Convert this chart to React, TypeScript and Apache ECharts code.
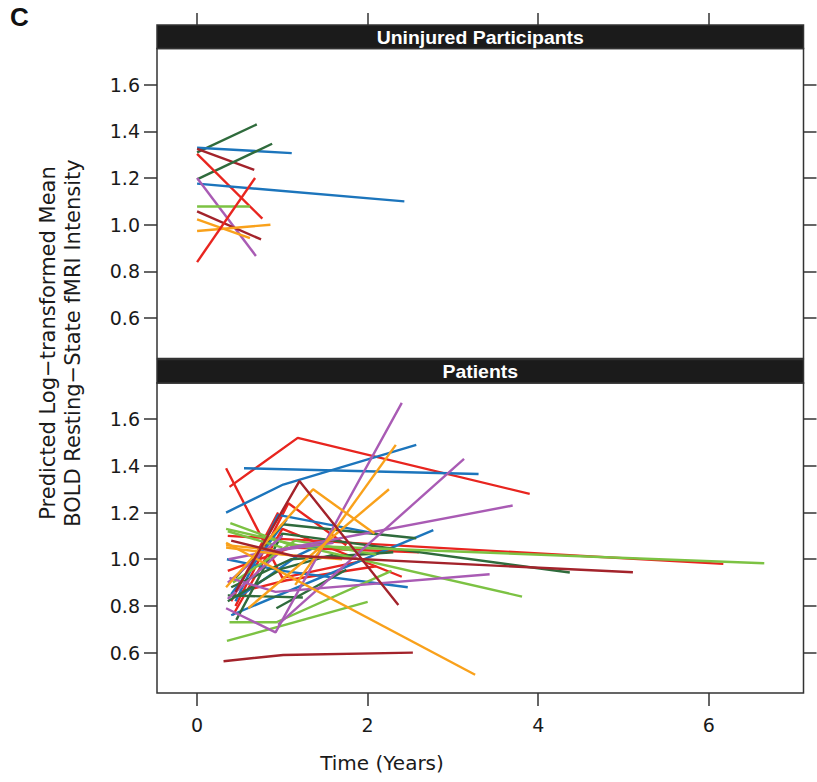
import React, { useEffect, useRef } from "react";
import * as echarts from "echarts";

const X_MIN = -0.47;
const X_MAX = 7.11;
const Y_MIN = 0.427;
const Y_MAX = 1.755;

const xTicks = [0, 2, 4, 6];
const yTicks = [0.6, 0.8, 1.0, 1.2, 1.4, 1.6];
const panelTitles = ["Uninjured Participants", "Patients"];
const xTitle = "Time (Years)";
const yTitle = ["Predicted Log\u2212transformed Mean", "BOLD Resting\u2212State fMRI Intensity"];
const panelLetter = "C";

const RED = "#E8251F";
const BLUE = "#1C75BC";
const DGREEN = "#2F6B3C";
const GREEN = "#7CC243";
const PURPLE = "#A95BB4";
const ORANGE = "#F9A11B";
const DRED = "#A3232B";

// Uninjured participants: time (years) and predicted values per participant
const uninjuredTimes = [
  [0, 0.7], [0, 1.11], [0, 0.67], [0, 0.88], [0, 0.765], [0, 2.43],
  [0, 0.69], [0, 0.62], [0, 0.75], [0, 0.62], [0, 0.86], [0, 0.68],
];
const uninjuredValues = [
  [1.31, 1.43], [1.33, 1.307], [1.325, 1.235], [1.194, 1.347], [1.304, 1.026], [1.176, 1.1],
  [1.2, 0.866], [1.078, 1.078], [1.057, 0.937], [1.023, 0.943], [0.973, 1.0], [0.84, 1.2],
];
const uninjuredColors = [
  DGREEN, BLUE, DRED, DGREEN, RED, BLUE, PURPLE, GREEN, DRED, ORANGE, ORANGE, RED,
];

// Patients
const patientTimes = [
  [0.38, 1.18, 3.9], [0.36, 6.17], [0.34, 1.0, 1.9], [0.45, 1.07, 1.75], [0.42, 1.0, 2.4],
  [0.5, 1.05, 2.1], [0.36, 1.1, 2.6], [0.4, 0.95],
  [0.55, 3.3], [0.34, 1.01, 2.57], [0.45, 0.95, 2.1], [0.4, 2.77], [0.35, 1.0, 2.47], [0.5, 1.2, 1.55],
  [0.4, 1.05],
  [0.46, 1.0, 4.37], [0.45, 1.0, 2.57], [0.36, 1.24], [0.93, 1.75], [0.4, 1.1, 2.3], [0.36, 1.0, 1.6],
  [0.35, 2.0], [0.38, 0.93, 2.28], [0.34, 3.81], [0.39, 1.1, 6.65], [0.42, 1.15, 2.1], [0.36, 1.0],
  [0.34, 0.92, 2.4], [0.95, 3.13], [0.37, 3.7], [0.38, 0.92, 3.43], [0.36, 1.0, 1.6], [0.36, 1.0],
  [0.34, 3.26], [0.34, 1.36, 2.08], [1.15, 2.33], [0.6, 2.25], [0.34, 1.0, 1.7], [0.34, 0.9],
  [0.31, 1.01, 2.53], [0.45, 1.2, 2.36], [0.4, 1.12, 5.11],
];
const patientValues = [
  [1.31, 1.52, 1.28], [1.1, 0.98], [1.39, 0.92, 0.99], [0.8, 1.24, 1.06], [0.76, 1.13, 0.925],
  [0.86, 0.91, 0.97], [0.95, 1.05, 1.03], [0.82, 1.2],
  [1.39, 1.365], [1.2, 1.32, 1.49], [0.82, 1.19, 1.11], [0.76, 1.125], [1.0, 0.95, 0.88], [0.84, 1.02, 1.08],
  [0.85, 1.17],
  [0.74, 1.11, 0.943], [0.92, 1.15, 1.09], [0.845, 0.836], [0.79, 0.955], [0.88, 1.0, 1.03], [0.82, 0.96, 1.02],
  [0.65, 0.817], [0.73, 0.73, 0.95], [1.13, 0.84], [1.155, 1.06, 0.983], [0.9, 1.08, 1.02], [1.12, 1.05],
  [0.79, 0.687, 1.67], [0.72, 1.43], [1.0, 1.23], [0.92, 0.86, 0.936], [0.83, 1.04, 1.07], [0.9, 1.1],
  [1.07, 0.505], [0.88, 1.3, 1.11], [0.89, 1.49], [0.79, 1.3], [1.05, 1.02, 1.0], [1.06, 1.04],
  [0.563, 0.59, 0.6], [0.86, 1.335, 0.804], [1.08, 1.015, 0.944],
];
const patientColors = [
  RED, RED, RED, RED, RED, RED, RED, RED,
  BLUE, BLUE, BLUE, BLUE, BLUE, BLUE, BLUE,
  DGREEN, DGREEN, DGREEN, DGREEN, DGREEN, DGREEN,
  GREEN, GREEN, GREEN, GREEN, GREEN, GREEN,
  PURPLE, PURPLE, PURPLE, PURPLE, PURPLE, PURPLE,
  ORANGE, ORANGE, ORANGE, ORANGE, ORANGE, ORANGE,
  DRED, DRED, DRED,
];

const AXIS_COLOR = "#333";
const TEXT_COLOR = "#1a1a1a";
const TICK_FONT = "DejaVu Sans";

const GRID_LEFT = 157;
const GRID_WIDTH = 646.5;
const PANEL_TOPS = [48.5, 383];
const PANEL_HEIGHT = 310;
const STRIP_H = 23.5;

function buildSeries(times: number[][], values: number[][], colors: string[], panel: number) {
  return times.map((t, i) => ({
    type: "line",
    xAxisIndex: panel,
    yAxisIndex: panel * 2,
    data: t.map((x, j) => [x, values[i][j]]),
    symbol: "none",
    silent: true,
    lineStyle: { color: colors[i], width: 2.4 },
    z: 3,
  }));
}

function yAxesFor(panel: number) {
  const common = {
    gridIndex: panel,
    type: "value",
    min: Y_MIN,
    max: Y_MAX,
    axisLine: { show: false, onZero: false },
    splitLine: { show: false },
  };
  const tick = {
    show: true,
    inside: false,
    length: 13,
    customValues: yTicks,
    lineStyle: { color: AXIS_COLOR, width: 1.5 },
  };
  return [
    {
      ...common,
      position: "left",
      axisTick: tick,
      axisLabel: {
        show: true,
        customValues: yTicks,
        margin: 17,
        fontSize: 19,
        fontFamily: TICK_FONT,
        color: TEXT_COLOR,
        formatter: (v: number) => v.toFixed(1),
      },
    },
    {
      ...common,
      position: "right",
      axisTick: tick,
      axisLabel: { show: false },
    },
  ];
}

export default function App() {
  const ref = useRef<HTMLDivElement>(null);

  useEffect(() => {
    if (!ref.current) return;
    const chart = echarts.init(ref.current, undefined, { renderer: "svg" });

    const graphics: any[] = [];
    panelTitles.forEach((title, i) => {
      const top = PANEL_TOPS[i] - STRIP_H;
      graphics.push({
        type: "rect",
        shape: { x: GRID_LEFT, y: top, width: GRID_WIDTH, height: STRIP_H },
        style: { fill: "#1b1b1b", stroke: AXIS_COLOR, lineWidth: 1.5 },
        z: 10,
      });
      graphics.push({
        type: "text",
        x: GRID_LEFT + GRID_WIDTH / 2,
        y: top + STRIP_H / 2 + 1,
        scaleX: 1.08,
        style: {
          text: title,
          fill: "#ffffff",
          font: "bold 18px 'Liberation Sans', Arial, sans-serif",
          textAlign: "center",
          textVerticalAlign: "middle",
          align: "center",
          verticalAlign: "middle",
        },
        z: 11,
      });
    });
    graphics.push({
      type: "text",
      x: 60,
      y: 343,
      rotation: Math.PI / 2,
      style: {
        text: yTitle.join("\n"),
        fill: TEXT_COLOR,
        font: "21px 'DejaVu Sans', sans-serif",
        lineHeight: 25,
        textAlign: "center",
        textVerticalAlign: "middle",
        align: "center",
        verticalAlign: "middle",
      },
    });
    graphics.push({
      type: "text",
      x: 382,
      y: 763,
      style: {
        text: xTitle,
        fill: TEXT_COLOR,
        font: "20px 'DejaVu Sans', sans-serif",
        textAlign: "center",
        textVerticalAlign: "middle",
        align: "center",
        verticalAlign: "middle",
      },
    });
    graphics.push({
      type: "text",
      x: 10,
      y: 4,
      style: {
        text: panelLetter,
        fill: "#111",
        font: "bold 26px 'Liberation Sans', Arial, sans-serif",
      },
    });

    const option: any = {
      animation: false,
      backgroundColor: "#ffffff",
      grid: PANEL_TOPS.map((t) => ({
        left: GRID_LEFT,
        top: t,
        width: GRID_WIDTH,
        height: PANEL_HEIGHT,
        show: true,
        borderColor: AXIS_COLOR,
        borderWidth: 1.5,
        backgroundColor: "#ffffff",
      })),
      xAxis: [
        {
          gridIndex: 0,
          type: "value",
          min: X_MIN,
          max: X_MAX,
          position: "top",
          offset: STRIP_H,
          axisLine: { show: false, onZero: false },
          splitLine: { show: false },
          axisTick: {
            show: true,
            inside: false,
            length: 12,
            customValues: xTicks,
            lineStyle: { color: AXIS_COLOR, width: 1.5 },
          },
          axisLabel: { show: false },
        },
        {
          gridIndex: 1,
          type: "value",
          min: X_MIN,
          max: X_MAX,
          position: "bottom",
          axisLine: { show: false, onZero: false },
          splitLine: { show: false },
          axisTick: {
            show: true,
            inside: false,
            length: 13,
            customValues: xTicks,
            lineStyle: { color: AXIS_COLOR, width: 1.5 },
          },
          axisLabel: {
            show: true,
            customValues: xTicks,
            margin: 22,
            fontSize: 19,
            fontFamily: TICK_FONT,
            color: TEXT_COLOR,
          },
        },
      ],
      yAxis: [...yAxesFor(0), ...yAxesFor(1)],
      series: [
        ...buildSeries(uninjuredTimes, uninjuredValues, uninjuredColors, 0),
        ...buildSeries(patientTimes, patientValues, patientColors, 1),
      ],
      graphic: graphics,
    };

    chart.setOption(option);
    return () => chart.dispose();
  }, []);

  return (
    <div
      ref={ref}
      style={{ position: "fixed", left: 0, top: 0, width: 817, height: 782, background: "#fff" }}
    />
  );
}
